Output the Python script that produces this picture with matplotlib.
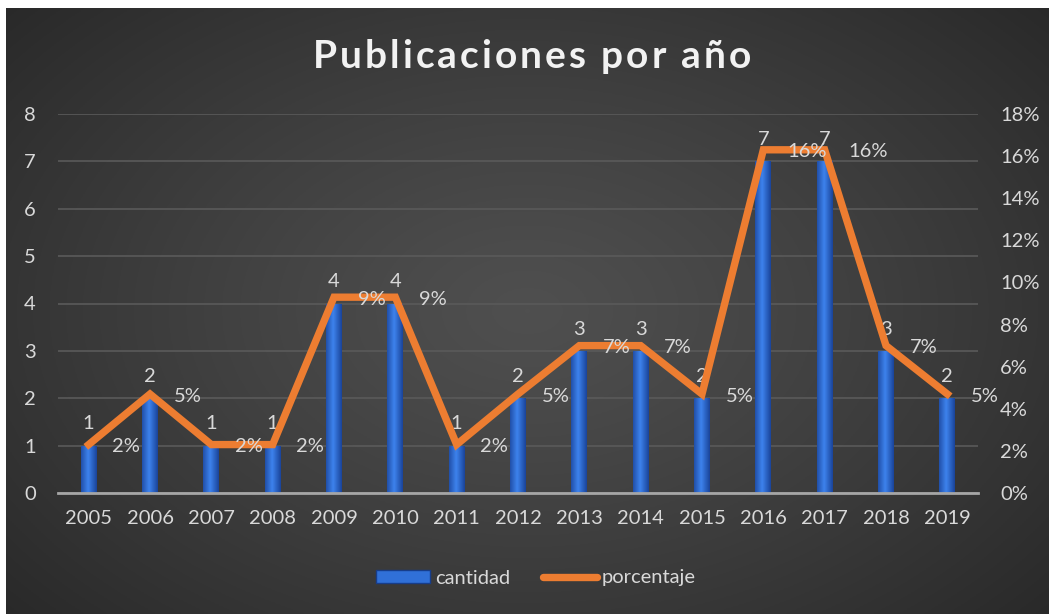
import numpy as np
import matplotlib
matplotlib.use("Agg")
import matplotlib.pyplot as plt
from matplotlib.lines import Line2D
from matplotlib.patches import Rectangle

years = ["2005", "2006", "2007", "2008", "2009", "2010", "2011", "2012",
         "2013", "2014", "2015", "2016", "2017", "2018", "2019"]
cantidad = [1, 2, 1, 1, 4, 4, 1, 2, 3, 3, 2, 7, 7, 3, 2]
porcentaje = [2.3, 4.7, 2.3, 2.3, 9.3, 9.3, 2.3, 4.7, 7.0, 7.0, 4.7, 16.3, 16.3, 7.0, 4.7]
pct_labels = ["2%", "5%", "2%", "2%", "9%", "9%", "2%", "5%", "7%", "7%", "5%", "16%", "16%", "7%", "5%"]
title = "Publicaciones por año"

plt.rcParams['font.family'] = ['Lato', 'DejaVu Sans']
W, H = 1049, 614
fig = plt.figure(figsize=(W / 100, H / 100), dpi=100, facecolor="white")

# background radial gradient
bg = fig.add_axes([6 / W, 0, 1 - 6 / W, 1 - 8 / H], zorder=-10)
yy, xx = np.mgrid[0:1:300j, 0:1:500j]
r = np.sqrt(((xx - 0.5) / 0.75) ** 2 + ((yy - 0.5) / 0.85) ** 2)
val = 0.31 - 0.17 * np.clip(r, 0, 1) ** 1.2
bg.imshow(np.dstack([val, val, val]), extent=[0, 1, 0, 1], aspect="auto", origin="lower")
bg.axis("off")

ax = fig.add_axes([58 / W, 1 - 493 / H, (978 - 58) / W, (493 - 114) / H])
ax.patch.set_alpha(0)
x = np.arange(len(years))
bars = ax.bar(x, cantidad, width=0.26, color="#2e6bd0", zorder=2)
grad = np.linspace(0, 1, 64)
prof = 1 - np.abs(grad - 0.45) * 2
cmap = matplotlib.colors.LinearSegmentedColormap.from_list("b", ["#1a449a", "#3d82ec"])
for b in bars:
    im = ax.imshow(prof[None, :], cmap=cmap, aspect="auto", zorder=2.1,
                   extent=[b.get_x(), b.get_x() + b.get_width(), 0, b.get_height()])
    im.set_clip_path(b)
ax.set_xlim(-0.5, len(years) - 0.5)
ax.set_ylim(0, 8)
ax.set_yticks(range(0, 9))
ax.set_xticks(x)
ax.set_xticklabels(years)
ax.grid(axis="y", color="#5a5a5a", linewidth=1.2, zorder=0)
ax.set_axisbelow(True)
for s in ["top", "right", "left"]:
    ax.spines[s].set_visible(False)
ax.spines["bottom"].set_color("#a6a6a6")
ax.spines["bottom"].set_linewidth(2)
ax.spines["bottom"].set_zorder(3)
ax.tick_params(axis="both", length=0, labelsize=14.5, colors="#d9d9d9")
ax.tick_params(axis="y", pad=16)
ax.tick_params(axis="x", pad=12)

ax2 = ax.twinx()
ax2.set_ylim(0, 18)
ax2.set_yticks(range(0, 19, 2))
ax2.set_yticklabels([f"{v}%" for v in range(0, 19, 2)])
ax2.plot(x, porcentaje, color="#ed7d31", linewidth=5.3, solid_joinstyle="miter", zorder=4)
for s in ax2.spines.values():
    s.set_visible(False)
ax2.tick_params(axis="y", length=0, labelsize=14.5, colors="#d9d9d9", pad=16)

for xi, c in zip(x, cantidad):
    ax.annotate(str(c), (xi, c), xytext=(0, 9.5), textcoords="offset points",
                ha="center", va="bottom", fontsize=14.5, color="#d9d9d9", zorder=6)
for xi, p, lab in zip(x, porcentaje, pct_labels):
    ax2.annotate(lab, (xi, p), xytext=(17, -1.5), textcoords="offset points",
                 ha="left", va="center", fontsize=14.5, color="#d9d9d9", zorder=6)

# title with letter spacing
renderer = fig.canvas.get_renderer()
tsize = 28
spacing = 3.0  # px
def tw(s):
    t = fig.text(0, 0, s, fontsize=tsize, fontweight="bold")
    w = t.get_window_extent(renderer).width
    t.remove()
    return w
widths = []
for ch in title:
    if ch == " ":
        widths.append(tw("a a") - tw("aa"))
    else:
        widths.append(tw(ch))
total = sum(widths) + spacing * (len(title) - 1)
cx, cy = 532, 57
xpos = cx - total / 2
for ch, w in zip(title, widths):
    if ch != " ":
        fig.text(xpos / W, 1 - cy / H, ch, ha="left", va="center", fontsize=tsize,
                 fontweight="bold", color="#f2f2f2")
    xpos += w + spacing

h1 = Rectangle((0, 0), 1, 1, facecolor="#3070d8", edgecolor="#173d8a")
h2 = Line2D([], [], color="#ed7d31", linewidth=5.3, solid_capstyle="round")
leg = fig.legend([h1, h2], ["cantidad", "porcentaje"], loc="center",
                 bbox_to_anchor=(536 / W, 1 - 578 / H), ncol=2, frameon=False,
                 fontsize=14.5, labelcolor="#d9d9d9", handlelength=2.7, handleheight=0.65,
                 handletextpad=0.25, columnspacing=1.6)

fig.savefig("out.png", dpi=100, facecolor="white")
